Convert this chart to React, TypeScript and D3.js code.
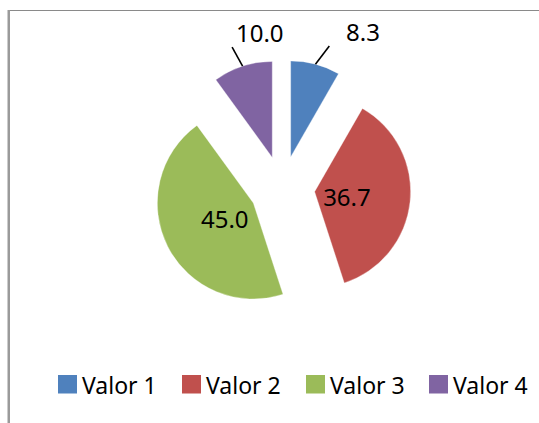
import React from "react";
import * as d3 from "d3";

const categories = ["Valor 1", "Valor 2", "Valor 3", "Valor 4"];
const values = [8.3, 36.7, 45.0, 10.0];
const colors = ["#4F81BD", "#C0504D", "#9BBB59", "#8064A2"];
const labelText = ["8.3", "36.7", "45.0", "10.0"];

const W = 539;
const H = 423;
const cx = 282.3;
const cy = 188.3;
const R = 96;
const explode = 32.5;
const FONT = "'Noto Sans', 'Open Sans', sans-serif";

// label placement: inside (fraction of radius along mid angle) or outside (polar from slice vertex)
const labelPlacement = [
  { outside: true, angle: 29.9, dist: 145, leaderEndAngle: 19.2, leaderEndDist: 117.5 },
  { outside: false, frac: 0.34, shift: 1.8 },
  { outside: false, frac: 0.34, shift: -2 },
  { outside: true, angle: -5.7, dist: 126, leaderEndAngle: -20, leaderEndDist: 117.4 },
];

export default function App() {
  const pie = d3.pie<number>().sort(null).value((d) => d)(values);
  const arc = d3.arc<d3.PieArcDatum<number>>().innerRadius(0).outerRadius(R);
  const rad = (deg: number) => (deg * Math.PI) / 180;
  const polar = (a: number, r: number) => [r * Math.sin(a), -r * Math.cos(a)];

  const legendX = [58, 182, 306, 429];

  return (
    <svg
      width={W}
      height={H}
      style={{ position: "absolute", left: 0, top: 0, background: "#fff" }}
      fontFamily={FONT}
    >
      <rect x={0} y={0} width={W} height={H} fill="#fff" />
      <line x1={10} y1={10.5} x2={539} y2={10.5} stroke="#8a8a8a" strokeWidth={1} />
      <rect x={7.5} y={10} width={2.5} height={H - 10} fill="#9a9a9a" />

      {pie.map((p, i) => {
        const mid = (p.startAngle + p.endAngle) / 2;
        const [ox, oy] = polar(mid, explode);
        const vx = cx + ox;
        const vy = cy + oy;
        const lp = labelPlacement[i];
        let label;
        if (lp.outside) {
          const [lx, ly] = polar(rad(lp.angle!), lp.dist!);
          const [sx, sy] = polar(mid, R);
          const [ex, ey] = polar(rad(lp.leaderEndAngle!), lp.leaderEndDist!);
          label = (
            <g>
              <line x1={vx + sx} y1={vy + sy} x2={vx + ex} y2={vy + ey} stroke="#000" strokeWidth={1.6} />
              <text x={vx + lx} y={vy + ly} textAnchor="middle" dominantBaseline="central" fontSize={24} fill="#000">
                {labelText[i]}
              </text>
            </g>
          );
        } else {
          const [lx, ly] = polar(mid + rad(lp.shift!), R * lp.frac!);
          label = (
            <text x={vx + lx} y={vy + ly} textAnchor="middle" dominantBaseline="central" fontSize={24} fill="#000">
              {labelText[i]}
            </text>
          );
        }
        return (
          <g key={i}>
            <path
              d={arc(p) || ""}
              transform={`translate(${vx},${vy})`}
              fill={colors[i]}
              stroke="#ffffff"
              strokeOpacity={0.4}
              strokeWidth={0.8}
            />
            {label}
          </g>
        );
      })}

      {categories.map((c, i) => (
        <g key={c}>
          <rect x={legendX[i]} y={375} width={19} height={18.5} fill={colors[i]} />
          <text x={legendX[i] + 24} y={394} fontSize={23} fill="#000">
            {c}
          </text>
        </g>
      ))}
    </svg>
  );
}
